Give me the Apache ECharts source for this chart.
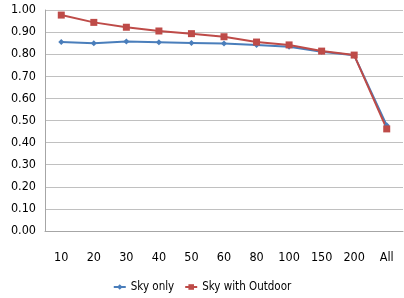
<!DOCTYPE html>
<html>
<head>
<meta charset="UTF-8">
<script src="https://cdn.jsdelivr.net/npm/echarts@6/dist/echarts.min.js"></script>
<style>
  html, body { margin: 0; padding: 0; background: #fff; }
  #main { width: 404px; height: 298px; }
</style>
</head>
<body>
<div id="main"></div>
<script>
var categories = ['10', '20', '30', '40', '50', '60', '80', '100', '150', '200', 'All'];
var skyOnly = [0.855, 0.849, 0.857, 0.854, 0.851, 0.848, 0.842, 0.834, 0.811, 0.795, 0.478];
var skyOutdoor = [0.977, 0.944, 0.922, 0.905, 0.893, 0.879, 0.855, 0.842, 0.814, 0.796, 0.462];

var font = '"Liberation Sans Narrow", "DejaVu Sans Condensed", sans-serif';

var chart = echarts.init(document.getElementById('main'));
chart.setOption({
  animation: false,
  textStyle: { fontFamily: font },
  grid: { left: 45, right: 1, top: 10, bottom: 67 },
  legend: {
    bottom: 0,
    left: 'center',
    itemWidth: 12,
    itemHeight: 7,
    itemGap: 10,
    textStyle: { fontSize: 11.5, color: '#000', fontFamily: font },
    data: ['Sky only', 'Sky with Outdoor']
  },
  xAxis: {
    type: 'category',
    data: categories,
    boundaryGap: true,
    axisLine: { lineStyle: { color: '#a6a6a6' } },
    axisTick: { show: false },
    axisLabel: { color: '#000', fontSize: 12.5, margin: 20, fontFamily: font }
  },
  yAxis: {
    type: 'value',
    min: 0,
    max: 1,
    interval: 0.1,
    axisLine: { show: true, lineStyle: { color: '#a6a6a6' } },
    axisTick: { show: false },
    splitLine: { lineStyle: { color: '#c0c0c0' } },
    axisLabel: {
      color: '#000',
      fontSize: 12.5,
      margin: 9,
      fontFamily: font,
      formatter: function (v) { return v.toFixed(2); }
    }
  },
  series: [
    {
      name: 'Sky only',
      type: 'line',
      data: skyOnly,
      symbol: 'diamond',
      symbolSize: 6,
      color: '#4a7ebb',
      lineStyle: { width: 2 }
    },
    {
      name: 'Sky with Outdoor',
      type: 'line',
      data: skyOutdoor,
      symbol: 'rect',
      symbolSize: 7,
      color: '#be4b48',
      lineStyle: { width: 2 }
    }
  ]
});
</script>
</body>
</html>
